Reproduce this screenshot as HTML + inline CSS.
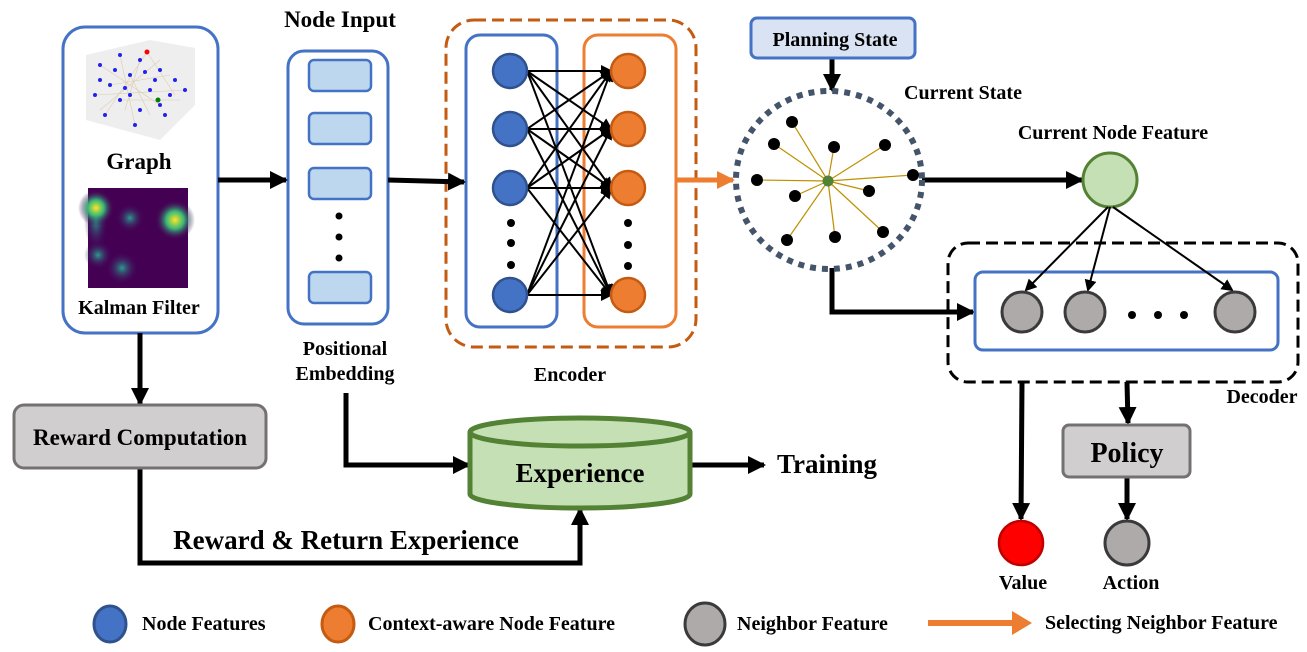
<!DOCTYPE html>
<html><head><meta charset="utf-8"><style>
html,body{margin:0;padding:0;background:#fff;}
svg text{font-family:"Liberation Serif",serif;font-weight:bold;fill:#000;}
</style></head><body>
<svg width="1307" height="647" viewBox="0 0 1307 647" xmlns="http://www.w3.org/2000/svg">
<defs>
<marker id="ah" markerWidth="6" markerHeight="6" refX="5" refY="3" orient="auto" markerUnits="strokeWidth"><path d="M0,0 L6,3 L0,6 z" fill="#000"/></marker>
<marker id="as" markerWidth="3.6" markerHeight="3.6" refX="3.2" refY="1.8" orient="auto" markerUnits="strokeWidth"><path d="M0,0 L3.6,1.8 L0,3.6 z" fill="#000"/></marker>
<marker id="ao" markerWidth="3.6" markerHeight="3.6" refX="3.2" refY="1.8" orient="auto" markerUnits="strokeWidth"><path d="M0,0 L3.6,1.8 L0,3.6 z" fill="#ed7d31"/></marker>
<radialGradient id="h1"><stop offset="0" stop-color="#fde725"/><stop offset="0.45" stop-color="#35b779"/><stop offset="1" stop-color="#440154" stop-opacity="0"/></radialGradient>
<radialGradient id="h2"><stop offset="0" stop-color="#2a9d8f"/><stop offset="1" stop-color="#440154" stop-opacity="0"/></radialGradient>
</defs>

<!-- Graph box -->
<rect x="63" y="27" width="155" height="306" rx="22" fill="#fff" stroke="#4472c4" stroke-width="3"/>
<polygon points="86,55 150,40 195,48 195,105 160,140 86,120" fill="#eee"/>
<g stroke="#d9c4a0" stroke-width="0.6" opacity="0.8">
<line x1="100" y1="65" x2="160" y2="105"/><line x1="120" y1="55" x2="135" y2="125"/><line x1="147" y1="52" x2="105" y2="115"/><line x1="147" y1="52" x2="175" y2="95"/><line x1="95" y1="95" x2="185" y2="90"/><line x1="110" y1="85" x2="170" y2="75"/><line x1="130" y1="75" x2="150" y2="115"/><line x1="100" y1="110" x2="160" y2="60"/><line x1="120" y1="100" x2="180" y2="100"/><line x1="140" y1="60" x2="125" y2="110"/>
</g>
<g fill="#2222ee">
<circle cx="100" cy="65" r="2"/><circle cx="120" cy="55" r="2"/><circle cx="140" cy="60" r="2"/><circle cx="160" cy="70" r="2"/><circle cx="175" cy="80" r="2"/><circle cx="110" cy="85" r="2"/><circle cx="130" cy="75" r="2"/><circle cx="150" cy="90" r="2"/><circle cx="170" cy="95" r="2"/><circle cx="95" cy="95" r="2"/><circle cx="120" cy="100" r="2"/><circle cx="140" cy="110" r="2"/><circle cx="160" cy="105" r="2"/><circle cx="135" cy="125" r="2"/><circle cx="105" cy="115" r="2"/><circle cx="185" cy="90" r="2"/><circle cx="125" cy="88" r="2"/><circle cx="145" cy="72" r="2"/><circle cx="115" cy="70" r="2"/><circle cx="155" cy="80" r="2"/><circle cx="130" cy="95" r="2"/><circle cx="165" cy="115" r="2"/><circle cx="100" cy="80" r="2"/>
</g>
<circle cx="147" cy="52" r="2.5" fill="red"/><circle cx="158" cy="100" r="2.5" fill="green"/>
<text x="139" y="169" font-size="23" text-anchor="middle">Graph</text>
<rect x="88" y="188" width="100" height="100" fill="#440154"/>
<ellipse cx="96" cy="220" rx="12" ry="30" fill="url(#h2)"/>
<circle cx="96" cy="208" r="18" fill="url(#h1)"/><circle cx="175" cy="220" r="20" fill="url(#h1)"/><circle cx="130" cy="218" r="14" fill="url(#h2)"/><circle cx="122" cy="268" r="16" fill="url(#h2)"/><circle cx="98" cy="255" r="14" fill="url(#h2)"/>
<text x="139" y="314" font-size="20" text-anchor="middle">Kalman Filter</text>

<!-- Node input -->
<text x="340" y="27" font-size="23" text-anchor="middle">Node Input</text>
<rect x="288" y="51" width="100" height="273" rx="16" fill="#fff" stroke="#4472c4" stroke-width="3"/>
<g fill="#bdd7ee" stroke="#4472c4" stroke-width="2.5">
<rect x="309" y="60" width="62" height="31" rx="5"/><rect x="309" y="113" width="62" height="31" rx="5"/><rect x="309" y="168" width="62" height="31" rx="5"/><rect x="309" y="272" width="62" height="31" rx="5"/>
</g>
<circle cx="339" cy="216" r="3.5"/><circle cx="339" cy="237" r="3.5"/><circle cx="339" cy="258" r="3.5"/>
<text x="345" y="355" font-size="20" text-anchor="middle">Positional</text>
<text x="345" y="380" font-size="20" text-anchor="middle">Embedding</text>

<!-- Encoder -->
<rect x="446" y="20" width="250" height="327" rx="28" fill="none" stroke="#c55a11" stroke-width="3" stroke-dasharray="12,6"/>
<rect x="466" y="35" width="91" height="292" rx="14" fill="none" stroke="#4472c4" stroke-width="3"/>
<rect x="584" y="35" width="92" height="292" rx="14" fill="none" stroke="#ed7d31" stroke-width="3"/>
<g stroke="#000" stroke-width="2" marker-end="url(#ah)">
<line x1="527" y1="71" x2="611" y2="71"/><line x1="527" y1="71" x2="611" y2="129"/><line x1="527" y1="71" x2="611" y2="188"/><line x1="527" y1="71" x2="611" y2="295"/>
<line x1="527" y1="129" x2="611" y2="71"/><line x1="527" y1="129" x2="611" y2="129"/><line x1="527" y1="129" x2="611" y2="188"/><line x1="527" y1="129" x2="611" y2="295"/>
<line x1="527" y1="188" x2="611" y2="71"/><line x1="527" y1="188" x2="611" y2="129"/><line x1="527" y1="188" x2="611" y2="188"/><line x1="527" y1="188" x2="611" y2="295"/>
<line x1="527" y1="295" x2="611" y2="71"/><line x1="527" y1="295" x2="611" y2="129"/><line x1="527" y1="295" x2="611" y2="188"/><line x1="527" y1="295" x2="611" y2="295"/>
</g>
<g fill="#4472c4" stroke="#2f528f" stroke-width="2.5">
<circle cx="510" cy="71" r="17"/><circle cx="510" cy="129" r="17"/><circle cx="510" cy="188" r="17"/><circle cx="510" cy="295" r="17"/>
</g>
<g fill="#ed7d31" stroke="#c55a11" stroke-width="2.5">
<circle cx="628" cy="71" r="17"/><circle cx="628" cy="129" r="17"/><circle cx="628" cy="188" r="17"/><circle cx="628" cy="295" r="17"/>
</g>
<circle cx="511" cy="223" r="4"/><circle cx="511" cy="243" r="4"/><circle cx="511" cy="265" r="4"/>
<circle cx="628" cy="223" r="4"/><circle cx="628" cy="245" r="4"/><circle cx="628" cy="266" r="4"/>
<text x="570" y="381" font-size="20" text-anchor="middle">Encoder</text>

<!-- main arrows -->
<g stroke="#000" stroke-width="5" fill="none" marker-end="url(#as)">
<line x1="218" y1="180" x2="286" y2="180"/>
<line x1="388" y1="180" x2="464" y2="182"/>
<line x1="832" y1="58" x2="832" y2="90"/>
<line x1="922" y1="180" x2="1082" y2="180"/>
<polyline points="832,268 832,312 973,312"/>
<line x1="140" y1="333" x2="140" y2="404"/>
<polyline points="346,393 346,465 469,465"/>
<polyline points="140,468 140,563 580,563 580,509"/>
<line x1="690" y1="465" x2="764" y2="465"/>
<line x1="1022" y1="382" x2="1021" y2="519"/>
<line x1="1127" y1="382" x2="1128" y2="423"/>
<line x1="1127" y1="477" x2="1127" y2="519"/>
</g>
<line x1="676" y1="180" x2="733" y2="180" stroke="#ed7d31" stroke-width="5" marker-end="url(#ao)"/>

<!-- Planning state -->
<rect x="751" y="18" width="164" height="40" rx="6" fill="#dae3f3" stroke="#4472c4" stroke-width="3"/>
<text x="835" y="46" font-size="20" text-anchor="middle">Planning State</text>
<text x="963" y="99" font-size="20" text-anchor="middle">Current State</text>

<!-- current state circle -->
<ellipse cx="829" cy="180" rx="93" ry="89" fill="none" stroke="#44546a" stroke-width="6" stroke-dasharray="6,6"/>
<g stroke="#bf9000" stroke-width="1.2">
<line x1="828" y1="181" x2="792" y2="122"/><line x1="828" y1="181" x2="774" y2="144"/><line x1="828" y1="181" x2="834" y2="147"/><line x1="828" y1="181" x2="885" y2="145"/><line x1="828" y1="181" x2="913" y2="175"/><line x1="828" y1="181" x2="757" y2="180"/><line x1="828" y1="181" x2="795" y2="196"/><line x1="828" y1="181" x2="869" y2="191"/><line x1="828" y1="181" x2="787" y2="240"/><line x1="828" y1="181" x2="835" y2="237"/><line x1="828" y1="181" x2="883" y2="232"/>
</g>
<g fill="#000">
<circle cx="792" cy="122" r="6"/><circle cx="774" cy="144" r="6"/><circle cx="834" cy="147" r="6"/><circle cx="885" cy="145" r="6"/><circle cx="913" cy="175" r="6"/><circle cx="757" cy="180" r="6"/><circle cx="795" cy="196" r="6"/><circle cx="869" cy="191" r="6"/><circle cx="787" cy="240" r="6"/><circle cx="835" cy="237" r="6"/><circle cx="883" cy="232" r="6"/>
</g>
<circle cx="828" cy="181" r="5.5" fill="#548235"/>

<!-- Current node feature -->
<text x="1113" y="139" font-size="20" text-anchor="middle">Current Node Feature</text>
<circle cx="1110" cy="180" r="27" fill="#c5e0b4" stroke="#548235" stroke-width="3"/>

<!-- Decoder -->
<rect x="948" y="243" width="350" height="139" rx="20" fill="none" stroke="#000" stroke-width="3" stroke-dasharray="12,6"/>
<rect x="975" y="272" width="303" height="78" rx="8" fill="none" stroke="#4472c4" stroke-width="3"/>
<g stroke="#000" stroke-width="2" marker-end="url(#ah)">
<line x1="1108" y1="207" x2="1026" y2="290"/><line x1="1110" y1="207" x2="1088" y2="290"/><line x1="1113" y1="207" x2="1232" y2="290"/>
</g>
<g fill="#aeaaaa" stroke="#3a3a3a" stroke-width="3">
<circle cx="1022" cy="312" r="20"/><circle cx="1085" cy="312" r="20"/><circle cx="1235" cy="312" r="20"/>
</g>
<circle cx="1132" cy="315" r="4"/><circle cx="1158" cy="315" r="4"/><circle cx="1184" cy="315" r="4"/>
<text x="1262" y="403" font-size="20" text-anchor="middle">Decoder</text>

<!-- Policy -->
<rect x="1063" y="425" width="127" height="52" rx="6" fill="#d0cece" stroke="#767171" stroke-width="3"/>
<text x="1127" y="462" font-size="28" text-anchor="middle">Policy</text>
<circle cx="1021" cy="543" r="22" fill="#ff0000" stroke="#c00000" stroke-width="2.5"/>
<circle cx="1127" cy="543" r="22" fill="#aeaaaa" stroke="#3a3a3a" stroke-width="3"/>
<text x="1023" y="589" font-size="20" text-anchor="middle">Value</text>
<text x="1131" y="589" font-size="20" text-anchor="middle">Action</text>

<!-- Reward -->
<rect x="14" y="405" width="252" height="63" rx="10" fill="#d0cece" stroke="#767171" stroke-width="3"/>
<text x="140" y="445" font-size="23" text-anchor="middle">Reward Computation</text>
<text x="346" y="549" font-size="27" text-anchor="middle">Reward &amp; Return Experience</text>

<!-- Experience -->
<path d="M470,432 L470,494 A110,14 0 0 0 690,494 L690,432" fill="#c5e0b4" stroke="#548235" stroke-width="5"/>
<ellipse cx="580" cy="432" rx="110" ry="14" fill="#c5e0b4" stroke="#548235" stroke-width="5"/>
<text x="580" y="482" font-size="27" text-anchor="middle">Experience</text>
<text x="827" y="473" font-size="27" text-anchor="middle">Training</text>

<!-- Legend -->
<ellipse cx="110" cy="624" rx="16" ry="18" fill="#4472c4" stroke="#2f528f" stroke-width="3"/>
<text x="142" y="630" font-size="20">Node Features</text>
<ellipse cx="338" cy="624" rx="16" ry="18" fill="#ed7d31" stroke="#c55a11" stroke-width="3"/>
<text x="368" y="630" font-size="20">Context-aware Node Feature</text>
<ellipse cx="705" cy="624" rx="20" ry="21" fill="#aeaaaa" stroke="#3a3a3a" stroke-width="3"/>
<text x="737" y="630" font-size="20">Neighbor Feature</text>
<line x1="928" y1="623" x2="1015" y2="623" stroke="#ed7d31" stroke-width="6"/>
<polygon points="1012,611 1032,623 1012,635" fill="#ed7d31"/>
<text x="1045" y="629" font-size="20">Selecting Neighbor Feature</text>
</svg>
</body></html>
